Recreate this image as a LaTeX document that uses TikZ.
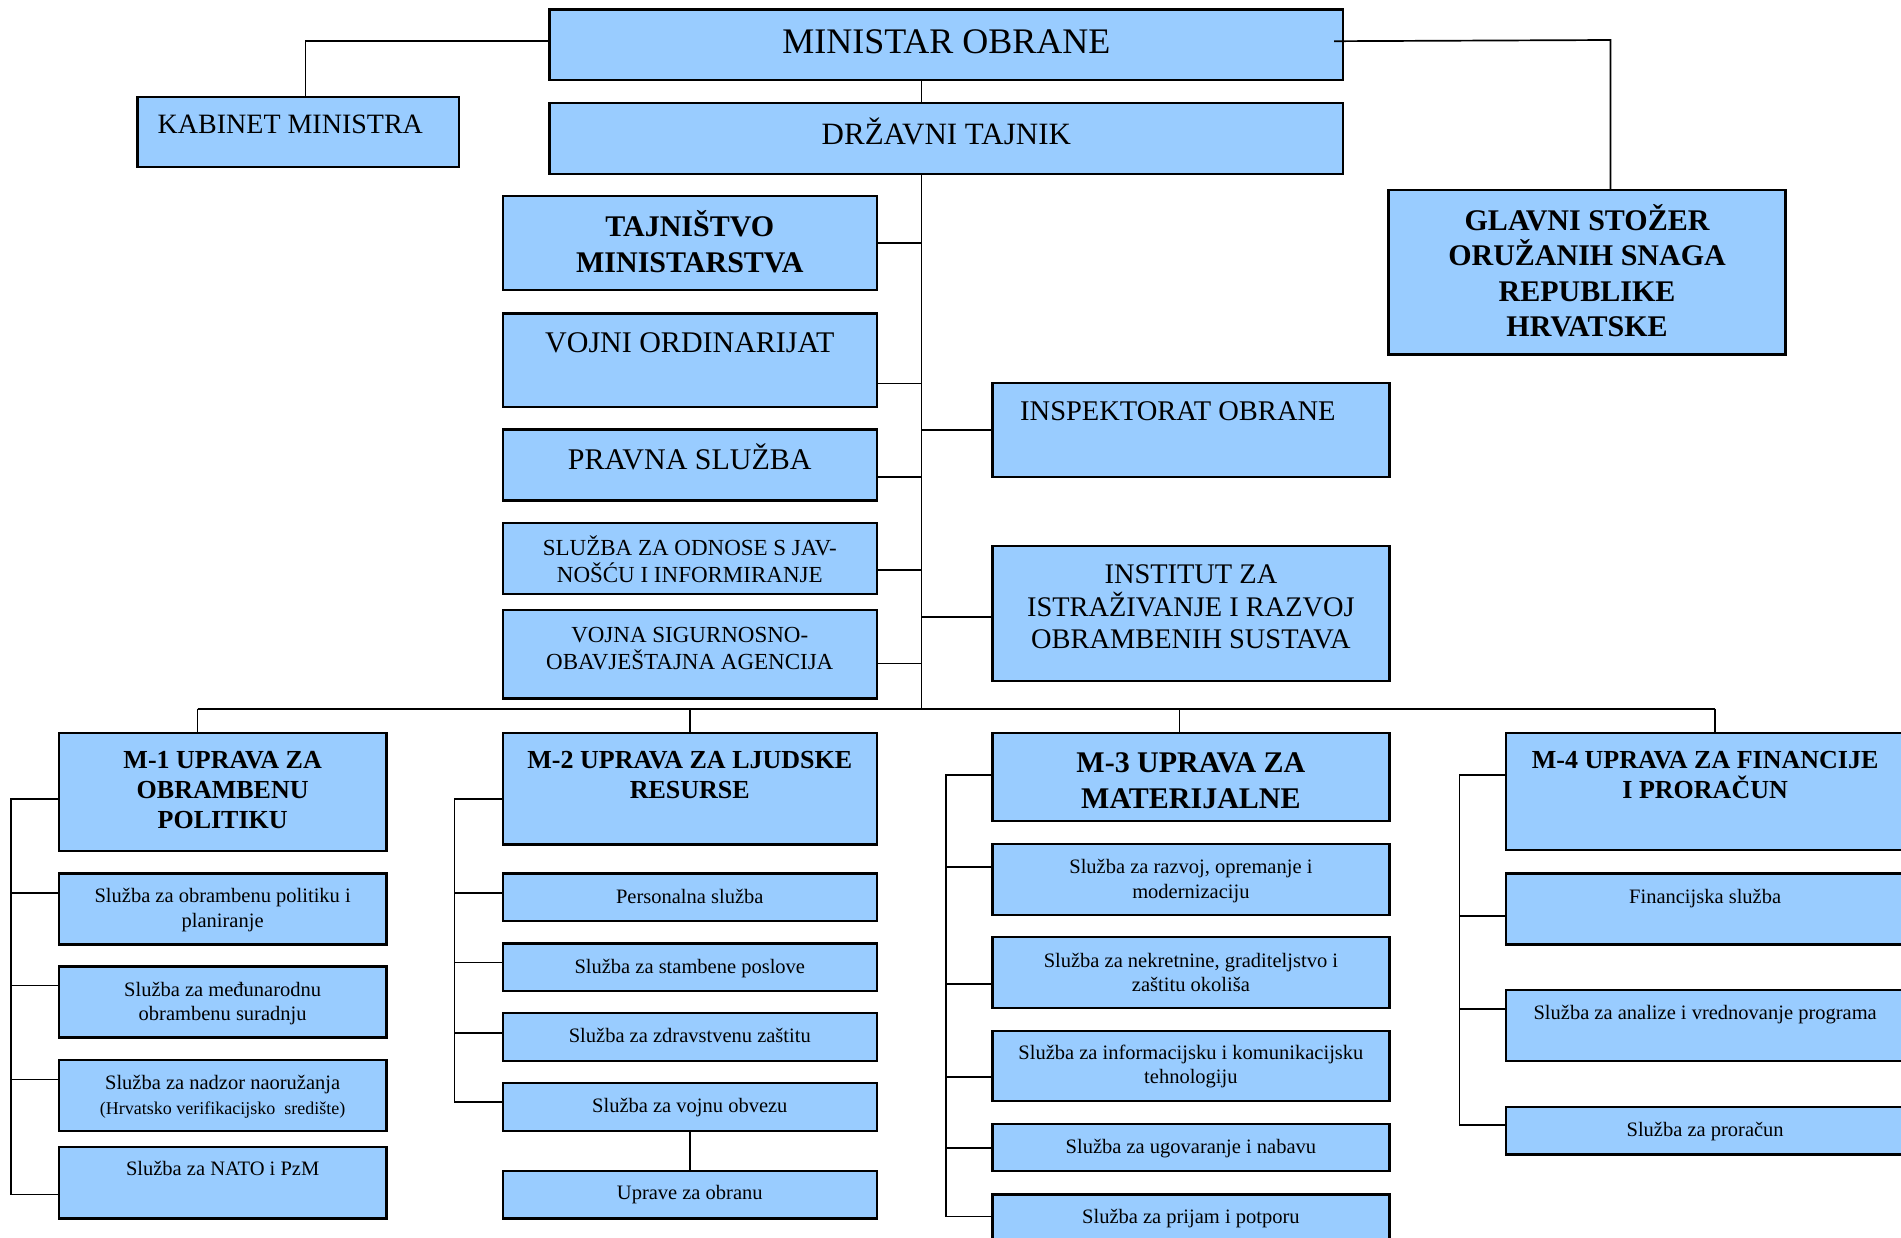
\documentclass[tikz,border=0pt]{standalone}
\usepackage{fontspec}
\setmainfont{Liberation Serif}
\definecolor{boxblue}{HTML}{99CCFF}
\newcommand{\chfont}{\fontsize{20.5}{24.5}\selectfont}
% name, left, top, right, bottom, font, first-baseline offset, text
\newcommand{\BX}[8]{\node[box,anchor=north west] (#1) at (#2,#3) {\parbox[c][\dimexpr#5pt-#3pt\relax][t]{\dimexpr#4pt-#2pt\relax}{#6\centering\rule{0pt}{#7pt}#8\par}};}
\begin{document}
\begin{tikzpicture}[x=1pt,y=-1pt,
  box/.style={draw=black,line width=2.4pt,fill=boxblue,inner sep=0pt},
  conn/.style={line width=1.7pt,line join=miter},
  busline/.style={line width=2.2pt}]
\useasboundingbox (0,0) rectangle (1901,1237);
\fill[white] (0,0) rectangle (1901,1237);
% top part
\BX{min}{548.3}{8.3}{1342}{79}{\fontsize{36}{40}\selectfont}{43.6}{MINISTAR OBRANE}
\BX{kab}{136.3}{95.7}{458}{166}{\fontsize{28}{32}\selectfont}{36.9}{\hspace*{-16pt}KABINET MINISTRA}
\BX{dt}{548.3}{101.7}{1342}{172.7}{\fontsize{31}{36}\selectfont}{41.9}{DRŽAVNI TAJNIK}
\BX{gs}{1387.4}{189}{1784.3}{353.3}{\bfseries\fontsize{30}{35.6}\selectfont}{39.9}{GLAVNI STOŽER\\ORUŽANIH SNAGA\\REPUBLIKE\\HRVATSKE}
\BX{taj}{501.7}{195}{875.5}{289}{\bfseries\fontsize{30}{36.7}\selectfont}{39.9}{TAJNIŠTVO\\MINISTARSTVA}
\BX{vo}{501.7}{312.3}{875.5}{406}{\fontsize{30}{36}\selectfont}{39.3}{VOJNI ORDINARIJAT}
\BX{pr}{501.7}{428.3}{875.5}{499.3}{\fontsize{30}{36}\selectfont}{39.9}{PRAVNA SLUŽBA}
\BX{od}{501.7}{521.7}{875.5}{592.7}{\fontsize{23}{26.6}\selectfont}{32.6}{SLUŽBA ZA ODNOSE S JAV-\\NOŠĆU I INFORMIRANJE}
\BX{vsoa}{501.7}{609}{875.5}{697.3}{\fontsize{23}{27.4}\selectfont}{31.9}{VOJNA SIGURNOSNO-\\OBAVJEŠTAJNA AGENCIJA}
\BX{insp}{991.2}{381.7}{1388.2}{475.7}{\fontsize{28.5}{33}\selectfont}{37.5}{\hspace*{-26pt}INSPEKTORAT OBRANE}
\BX{inst}{991.2}{545}{1388.2}{680}{\fontsize{28.4}{32.8}\selectfont}{37.1}{INSTITUT ZA\\ISTRAŽIVANJE I RAZVOJ\\OBRAMBENIH SUSTAVA}
% M-1
\BX{m1}{57.6}{731.8}{385.3}{849.7}{\bfseries\fontsize{26}{30}\selectfont}{35}{M-1 UPRAVA ZA\\OBRAMBENU\\POLITIKU}
\BX{m1a}{57.6}{872.3}{385.3}{943.2}{\chfont}{29.1}{Služba za obrambenu politiku i\\planiranje}
\BX{m1b}{57.6}{965.4}{385.3}{1036.3}{\chfont}{29.5}{Služba za međunarodnu\\obrambenu suradnju}
\BX{m1c}{57.6}{1058.9}{385.3}{1129.8}{\chfont}{29.5}{Služba za nadzor naoružanja\\{\fontsize{18}{22}\selectfont(Hrvatsko verifikacijsko\ \ središte)}}
\BX{m1d}{57.6}{1145.9}{385.3}{1217.1}{\chfont}{28.8}{Služba za NATO i PzM}
% M-2
\BX{m2}{501.7}{731.8}{875.5}{843.2}{\bfseries\fontsize{26}{30}\selectfont}{35}{M-2 UPRAVA ZA LJUDSKE\\RESURSE}
\BX{m2a}{501.7}{872.3}{875.5}{919.9}{\chfont}{30.1}{Personalna služba}
\BX{m2b}{501.7}{942.1}{875.5}{989.7}{\chfont}{29.8}{Služba za stambene poslove}
\BX{m2c}{501.7}{1012}{875.5}{1059.6}{\chfont}{29.1}{Služba za zdravstvenu zaštitu}
\BX{m2d}{501.7}{1081.8}{875.5}{1129.8}{\chfont}{29.5}{Služba za vojnu obvezu}
\BX{m2e}{501.7}{1169.9}{875.5}{1217.1}{\chfont}{28.8}{Uprave za obranu}
% M-3
\BX{m3}{991.2}{731.8}{1388.2}{819.9}{\bfseries\fontsize{30}{36}\selectfont}{39.7}{M-3 UPRAVA ZA\\MATERIJALNE}
\BX{m3a}{991.2}{842.8}{1388.2}{914}{\chfont}{29.5}{Služba za razvoj, opremanje i\\modernizaciju}
\BX{m3b}{991.2}{936}{1388.2}{1006.5}{\chfont}{29.8}{Služba za nekretnine, graditeljstvo i\\zaštitu okoliša}
\BX{m3c}{991.2}{1029.5}{1388.2}{1100}{\chfont}{28.7}{Služba za informacijsku i komunikacijsku\\tehnologiju}
\BX{m3d}{991.2}{1123}{1388.2}{1169.9}{\chfont}{29.4}{Služba za ugovaranje i nabavu}
\BX{m3e}{991.2}{1193.2}{1388.2}{1245}{\chfont}{29.4}{Služba za prijam i potporu}
% M-4
\BX{m4}{1504.9}{731.8}{1903}{849}{\bfseries\fontsize{26}{30}\selectfont}{35}{M-4 UPRAVA ZA FINANCIJE\\I PRORAČUN}
\BX{m4a}{1504.9}{872.3}{1903}{943.2}{\chfont}{30.1}{Financijska služba}
\BX{m4b}{1504.9}{988.7}{1903}{1059.6}{\chfont}{29.1}{Služba za analize i vrednovanje programa}
\BX{m4c}{1504.9}{1105.8}{1903}{1153.1}{\chfont}{29.5}{Služba za proračun}
% coordinates
\coordinate (spx) at (921.5,0);
\coordinate (gsx) at (1610.4,40);
\coordinate (busL) at (197.5,708.6);
\coordinate (busR) at (1715.3,708.6);
\coordinate (r1) at (10.9,0);
\coordinate (r2) at (454.4,0);
\coordinate (r3) at (945.7,0);
\coordinate (r4) at (1459.4,0);
% top connectors
\draw[conn] ([yshift=3.65pt]min.west) -| ([xshift=7.05pt]kab.north);
\draw[conn] ([xshift=-10.3pt,yshift=3.65pt]min.east) -- (gsx) -- (gs.north -| gsx);
\draw[conn] (min.south -| spx) -- (dt.north -| spx);
\draw[conn] (dt.south -| spx) -- (busL -| spx);
\draw[conn] (taj.east) -- (taj.east -| spx);
\draw[conn] ([yshift=-23.2pt]vo.east) -- ([yshift=-23.2pt]vo.east -| spx);
\draw[conn] ([yshift=-11.9pt]pr.east) -- ([yshift=-11.9pt]pr.east -| spx);
\draw[conn] ([yshift=-11.8pt]od.east) -- ([yshift=-11.8pt]od.east -| spx);
\draw[conn] ([yshift=-9.2pt]vsoa.east) -- ([yshift=-9.2pt]vsoa.east -| spx);
\draw[conn] (insp.west) -- (insp.west -| spx);
\draw[conn] ([yshift=-3.2pt]inst.west) -- ([yshift=-3.2pt]inst.west -| spx);
% bus
\draw[busline] (busL) -- (busR);
\draw[conn] (busL) -- (m1.north -| busL);
\draw[conn] (m2.north |- busL) -- (m2.north);
\draw[conn] ([xshift=-11.4pt]m3.north |- busL) -- ([xshift=-11.4pt]m3.north);
\draw[conn] (busR) -- (m4.north -| busR);
% M-1 rail
\draw[conn] ([yshift=-6.85pt]m1.west) -- ([yshift=-6.85pt]m1.west -| r1) -- ([yshift=-11.7pt]m1d.west -| r1) -- ([yshift=-11.7pt]m1d.west);
\draw[conn] ([yshift=15.95pt]m1a.west) -- ([yshift=15.95pt]m1a.west -| r1);
\draw[conn] ([yshift=16.6pt]m1b.west) -- ([yshift=16.6pt]m1b.west -| r1);
\draw[conn] ([yshift=15.95pt]m1c.west) -- ([yshift=15.95pt]m1c.west -| r1);
% M-2 rail
\draw[conn] ([yshift=-10.1pt]m2.west) -- ([yshift=-10.1pt]m2.west -| r2) -- ([yshift=5.1pt]m2d.west -| r2) -- ([yshift=5.1pt]m2d.west);
\draw[conn] ([yshift=4.3pt]m2a.west) -- ([yshift=4.3pt]m2a.west -| r2);
\draw[conn] ([yshift=4.6pt]m2b.west) -- ([yshift=4.6pt]m2b.west -| r2);
\draw[conn] ([yshift=4.3pt]m2c.west) -- ([yshift=4.3pt]m2c.west -| r2);
\draw[conn] (m2d.south) -- (m2e.north);
% M-3 rail
\draw[conn] ([yshift=2.2pt]m3.west) -- ([yshift=2.2pt]m3.west -| r3) -- ([yshift=3.7pt]m3e.west -| r3) -- ([yshift=3.7pt]m3e.west);
\draw[conn] ([yshift=12.3pt]m3a.west) -- ([yshift=12.3pt]m3a.west -| r3);
\draw[conn] ([yshift=-11.25pt]m3b.west) -- ([yshift=-11.25pt]m3b.west -| r3);
\draw[conn] ([yshift=-11.25pt]m3c.west) -- ([yshift=-11.25pt]m3c.west -| r3);
\draw[conn] (m3d.west) -- (m3d.west -| r3);
% M-4 rail
\draw[conn] ([yshift=16.8pt]m4.west) -- ([yshift=16.8pt]m4.west -| r4) -- ([yshift=5.9pt]m4c.west -| r4) -- ([yshift=5.9pt]m4c.west);
\draw[conn] ([yshift=-7pt]m4a.west) -- ([yshift=-7pt]m4a.west -| r4);
\draw[conn] ([yshift=16.7pt]m4b.west) -- ([yshift=16.7pt]m4b.west -| r4);
\end{tikzpicture}
\end{document}
